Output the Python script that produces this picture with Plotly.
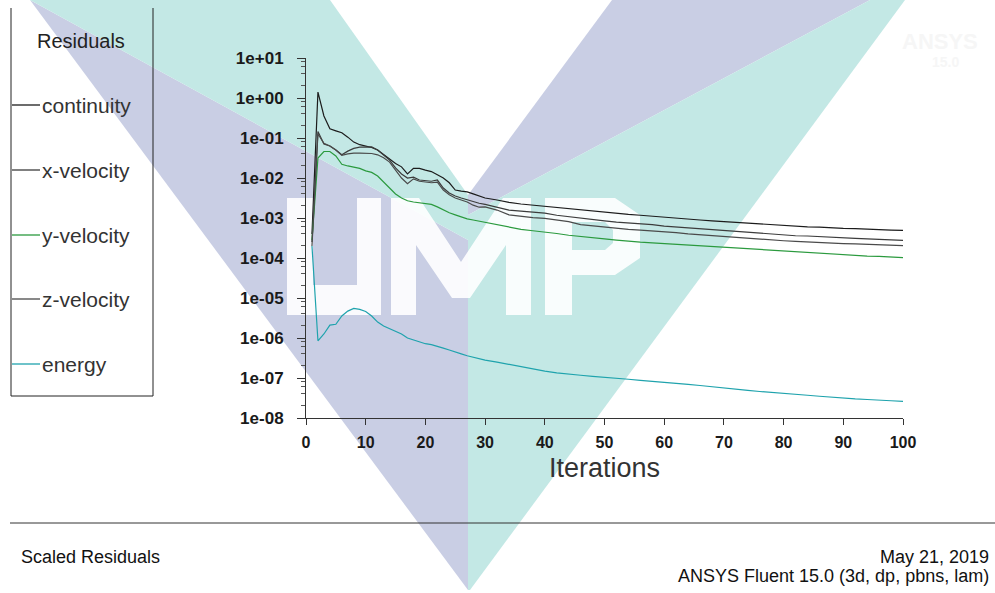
import plotly.graph_objects as go

# ---------------- data ----------------
iterations = list(range(1, 31)) + list(range(32, 101, 2))

continuity = [4.0e-4, 1.41, 0.355, 0.17, 0.151, 0.135, 0.105, 0.079, 0.068, 0.063,
              0.058, 0.050, 0.038, 0.030, 0.023, 0.019, 0.0126, 0.0174, 0.0174, 0.0158,
              0.0145, 0.012, 0.010, 0.0076, 0.0050, 0.0047, 0.0045, 0.0040, 0.00355, 0.00316,
              0.00282, 0.00245, 0.00224, 0.00209, 0.00195, 0.00182, 0.00170, 0.00158, 0.00151, 0.00141,
              0.00132, 0.00123, 0.00117, 0.00110, 0.00105, 0.00100, 9.3e-4, 8.9e-4, 8.5e-4, 8.1e-4,
              7.8e-4, 7.4e-4, 7.1e-4, 6.8e-4, 6.6e-4, 6.3e-4, 6.0e-4, 5.9e-4, 5.6e-4, 5.5e-4,
              5.4e-4, 5.2e-4, 5.1e-4, 5.0e-4, 4.9e-4]

x_velocity = [2.5e-4, 0.145, 0.071, 0.063, 0.050, 0.038, 0.047, 0.055, 0.059, 0.060,
              0.060, 0.050, 0.038, 0.028, 0.0178, 0.0126, 0.0100, 0.0105, 0.0089, 0.0087,
              0.0083, 0.0089, 0.0056, 0.0042, 0.00355, 0.00316, 0.00282, 0.00251, 0.00234, 0.00219,
              0.00190, 0.00158, 0.00148, 0.00138, 0.00132, 0.00117, 0.00107, 9.8e-4, 9.1e-4, 8.5e-4,
              7.9e-4, 7.6e-4, 7.2e-4, 6.8e-4, 6.3e-4, 6.0e-4, 5.6e-4, 5.4e-4, 5.0e-4, 4.8e-4,
              4.6e-4, 4.4e-4, 4.2e-4, 4.0e-4, 3.8e-4, 3.6e-4, 3.55e-4, 3.4e-4, 3.3e-4, 3.16e-4,
              3.1e-4, 3.0e-4, 2.95e-4, 2.8e-4, 2.75e-4]

y_velocity = [2.8e-4, 0.0316, 0.046, 0.046, 0.0355, 0.022, 0.020, 0.019, 0.0174, 0.0151,
              0.0138, 0.0112, 0.0079, 0.0056, 0.0040, 0.00316, 0.0027, 0.00251, 0.0024, 0.00234,
              0.00219, 0.0019, 0.00158, 0.00135, 0.0012, 0.00107, 9.5e-4, 8.9e-4, 8.3e-4, 7.6e-4,
              6.6e-4, 5.9e-4, 5.2e-4, 4.8e-4, 4.5e-4, 4.1e-4, 3.7e-4, 3.5e-4, 3.2e-4, 3.0e-4,
              2.8e-4, 2.6e-4, 2.5e-4, 2.4e-4, 2.3e-4, 2.2e-4, 2.1e-4, 2.0e-4, 1.9e-4, 1.82e-4,
              1.74e-4, 1.66e-4, 1.58e-4, 1.51e-4, 1.45e-4, 1.41e-4, 1.35e-4, 1.29e-4, 1.26e-4, 1.2e-4,
              1.17e-4, 1.12e-4, 1.1e-4, 1.07e-4, 1.02e-4]

z_velocity = [2.0e-4, 0.126, 0.074, 0.063, 0.050, 0.037, 0.040, 0.042, 0.042, 0.042,
              0.041, 0.038, 0.032, 0.025, 0.0158, 0.0100, 0.0072, 0.0095, 0.0083, 0.0079,
              0.0076, 0.0079, 0.0050, 0.0038, 0.00316, 0.00282, 0.00251, 0.00209, 0.00186, 0.0019,
              0.00158, 0.0012, 0.0011, 0.00102, 9.8e-4, 8.9e-4, 8.1e-4, 6.8e-4, 6.3e-4, 6.0e-4,
              5.6e-4, 5.2e-4, 5.0e-4, 4.8e-4, 4.5e-4, 4.3e-4, 4.0e-4, 3.8e-4, 3.55e-4, 3.4e-4,
              3.2e-4, 3.1e-4, 2.95e-4, 2.8e-4, 2.7e-4, 2.6e-4, 2.5e-4, 2.45e-4, 2.35e-4, 2.3e-4,
              2.25e-4, 2.2e-4, 2.15e-4, 2.1e-4, 2.05e-4]

energy = [2.0e-4, 8.5e-7, 1.26e-6, 2.1e-6, 2.2e-6, 3.55e-6, 4.7e-6, 5.5e-6, 5.2e-6, 4.6e-6,
          3.55e-6, 2.5e-6, 2.0e-6, 1.74e-6, 1.45e-6, 1.26e-6, 1.0e-6, 8.9e-7, 7.9e-7, 7.2e-7,
          6.8e-7, 6.3e-7, 5.6e-7, 5.0e-7, 4.4e-7, 4.0e-7, 3.6e-7, 3.3e-7, 3.0e-7, 2.8e-7,
          2.5e-7, 2.2e-7, 1.9e-7, 1.66e-7, 1.48e-7, 1.35e-7, 1.23e-7, 1.17e-7, 1.1e-7, 1.05e-7,
          9.8e-8, 9.3e-8, 8.7e-8, 8.3e-8, 7.9e-8, 7.4e-8, 6.9e-8, 6.5e-8, 6.0e-8, 5.6e-8,
          5.2e-8, 4.9e-8, 4.6e-8, 4.4e-8, 4.2e-8, 4.0e-8, 3.7e-8, 3.5e-8, 3.3e-8, 3.16e-8,
          3.0e-8, 2.9e-8, 2.75e-8, 2.7e-8, 2.6e-8]

series_names = ["continuity", "x-velocity", "y-velocity", "z-velocity", "energy"]
series_colors = ["#1c1c1c", "#3c3c3c", "#2b9a3e", "#4a4a4a", "#1fa3ad"]
series_values = [continuity, x_velocity, y_velocity, z_velocity, energy]

y_tickvals = [1e1, 1e0, 1e-1, 1e-2, 1e-3, 1e-4, 1e-5, 1e-6, 1e-7, 1e-8]
y_ticktext = ["1e+01", "1e+00", "1e-01", "1e-02", "1e-03", "1e-04", "1e-05", "1e-06", "1e-07", "1e-08"]
x_tickvals = [0, 10, 20, 30, 40, 50, 60, 70, 80, 90, 100]

# ---------------- layout helpers ----------------
W, H = 995, 593
L, R, T, B = 306, 903, 58, 418


def P(px, py):
    return (px - L) / (R - L), (B - py) / (B - T)


def path(points):
    s = ""
    for i, (px, py) in enumerate(points):
        x, y = P(px, py)
        s += ("M" if i == 0 else " L") + f"{x:.5f},{y:.5f}"
    return s + " Z"


FONT = "Liberation Sans, Arial, sans-serif"
LAV = "rgb(201,206,228)"
TEAL = "rgb(195,232,229)"

fig = go.Figure()
for name, col, vals in zip(series_names, series_colors, series_values):
    fig.add_trace(go.Scatter(x=iterations, y=vals, mode="lines", name=name,
                             line=dict(color=col, width=1.2), showlegend=False))

shapes = []


def poly(points, color, extra=None):
    d = dict(type="path", path=path(points), xref="paper", yref="paper", fillcolor=color,
             line=dict(width=0), layer="below")
    if extra:
        d.update(extra)
    return d


# watermark (UMP logo) below everything
shapes.append(poly([(30, 0), (468, 240), (468, 590)], LAV))                     # left arm outer
shapes.append(poly([(30, 0), (330, 0), (468, 195), (468, 240)], TEAL))          # left arm inner
shapes.append(poly([(612, 0), (870, 0), (468, 215), (468, 195)], LAV))          # right arm top
shapes.append(poly([(870, 0), (905, 0), (470, 590), (468, 590), (468, 215)], TEAL))  # right arm lower

WHITE = "rgba(255,255,255,0.9)"
shapes.append(poly([(287, 198), (313, 198), (313, 285), (357, 285), (357, 198),
                    (381, 198), (381, 315), (287, 315)], WHITE))
shapes.append(poly([(391, 315), (391, 198), (419, 198), (461, 262), (503, 198),
                    (531, 198), (531, 315), (506, 315), (506, 245), (470, 298),
                    (452, 298), (416, 245), (416, 315)], WHITE))
p_outer = path([(545, 315), (545, 198), (615, 198), (640, 215), (640, 258), (615, 275), (572, 275), (572, 315)])
p_hole = path([(572, 222), (572, 250), (605, 250), (613, 243), (613, 230), (605, 222)])
shapes.append(dict(type="path", path=p_outer + " " + p_hole, fillrule="evenodd",
                   xref="paper", yref="paper", fillcolor=WHITE, line=dict(width=0), layer="below"))


def seg(a, b, color="#222", width=1):
    x0, y0 = P(*a)
    x1, y1 = P(*b)
    return dict(type="line", xref="paper", yref="paper", x0=x0, y0=y0, x1=x1, y1=y1,
                line=dict(color=color, width=width))


# legend box
shapes.append(seg((11, 8), (11, 396)))
shapes.append(seg((153, 8), (153, 396)))
shapes.append(seg((11, 396), (153, 396)))
# bottom separator line
shapes.append(seg((10, 523), (995, 523), "#333"))

annotations = []


def text(t, px, py, size, anchor="left", color="#222"):
    x, y = P(px, py)
    return dict(text=t, x=x, y=y, xref="paper", yref="paper", xanchor=anchor, yanchor="middle",
                showarrow=False, font=dict(family=FONT, size=size, color=color))


legend_rows = [105, 170, 235, 299, 364]
for name, col, py in zip(series_names, series_colors, legend_rows):
    shapes.append(seg((12, py), (40, py), col, 1.3))
    annotations.append(text(name, 40, py, 21, "left", "#333"))

annotations.append(text("Residuals", 81, 41, 20, "center", "#222"))
annotations.append(text("Iterations", 604, 468, 27, "center", "#333"))
annotations.append(text("Scaled Residuals", 19, 557, 18, "left", "#111"))
annotations.append(text("May 21, 2019", 991, 557, 18, "right", "#111"))
annotations.append(text("ANSYS Fluent 15.0 (3d, dp, pbns, lam)", 991, 576, 18, "right", "#111"))
annotations.append(text("<b>ANSYS</b>", 940, 42, 22, "center", "#f6f6f6"))
annotations.append(text("<b>15.0</b>", 945, 62, 14, "center", "#f6f6f6"))

minor_vals = []
for e in range(-8, 1):
    for m in (2, 4, 6, 8):
        minor_vals.append(m * 10.0 ** e)

fig.update_layout(
    width=W, height=H, autosize=False,
    margin=dict(l=L, r=W - R, t=T, b=H - B, pad=0),
    paper_bgcolor="white", plot_bgcolor="rgba(0,0,0,0)",
    shapes=shapes, annotations=annotations, showlegend=False,
    xaxis=dict(range=[0, 100], tickvals=x_tickvals, ticktext=[f"<b>{v}</b>" for v in x_tickvals],
               ticks="outside", ticklen=6, tickcolor="#333", showline=True, linecolor="#333", linewidth=1,
               showgrid=False, zeroline=False, tickfont=dict(family=FONT, size=16, color="#1a1a1a"),
               ticklabelstandoff=4),
    yaxis=dict(type="log", range=[-8, 1], tickvals=y_tickvals, ticktext=[f"<b>{t}</b>" for t in y_ticktext],
               ticks="outside", ticklen=8, tickcolor="#333", showline=True, linecolor="#333", linewidth=1,
               showgrid=False, zeroline=False, tickfont=dict(family=FONT, size=17, color="#1a1a1a"),
               ticklabelstandoff=10,
               minor=dict(tickvals=minor_vals, ticks="outside", ticklen=4, tickcolor="#555", showgrid=False)),
)

fig.write_html("out.html")
